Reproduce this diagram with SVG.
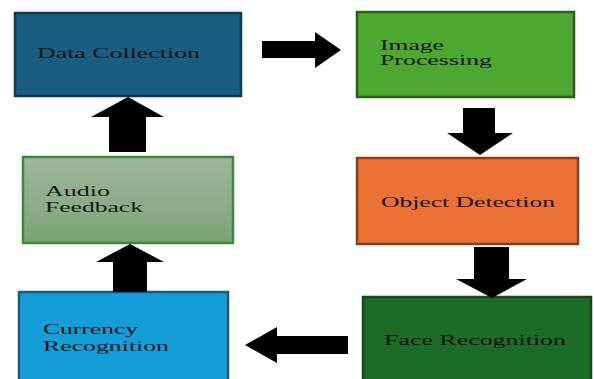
<svg xmlns="http://www.w3.org/2000/svg" width="594" height="379" viewBox="0 0 594 379">
  <defs>
    <linearGradient id="audioFill" x1="0" y1="0" x2="0" y2="1">
      <stop offset="0" stop-color="#9fb99d"/>
      <stop offset="1" stop-color="#7ba276"/>
    </linearGradient>
  </defs>
  <style>
    .box { stroke-width: 2.5; }
    .label { font-family: "Liberation Serif", "Times New Roman", serif; font-size: 15px; fill: #141414; }
    .label.two { font-size: 14px; }
    .arrow { fill: #000000; }
  </style>
  <rect width="594" height="379" fill="#ffffff"/>

  <g id="data-collection">
    <rect class="box" x="15" y="13" width="226" height="83" fill="#195e80" stroke="#16384c"/>
    <text class="label" x="37" y="58" textLength="163" lengthAdjust="spacingAndGlyphs">Data Collection</text>
  </g>

  <g id="image-processing">
    <rect class="box" x="357" y="12" width="217" height="85" fill="#4ea72f" stroke="#2e5f20"/>
    <text class="label two" x="380" y="50" textLength="64" lengthAdjust="spacingAndGlyphs">Image</text>
    <text class="label two" x="380" y="65" textLength="112" lengthAdjust="spacingAndGlyphs">Processing</text>
  </g>

  <g id="object-detection">
    <rect class="box" x="357" y="158" width="221" height="86" fill="#e97133" stroke="#8a3f1b"/>
    <text class="label" x="381" y="207" textLength="174" lengthAdjust="spacingAndGlyphs">Object Detection</text>
  </g>

  <g id="face-recognition">
    <rect class="box" x="363" y="297" width="228" height="90" fill="#1c6b27" stroke="#164a1c"/>
    <text class="label" x="384" y="345" textLength="182" lengthAdjust="spacingAndGlyphs">Face Recognition</text>
  </g>

  <g id="currency-recognition">
    <rect class="box" x="19" y="292" width="209" height="95" fill="#139ed8" stroke="#1f5876"/>
    <text class="label two" x="43" y="334" textLength="95" lengthAdjust="spacingAndGlyphs">Currency</text>
    <text class="label two" x="43" y="351" textLength="126" lengthAdjust="spacingAndGlyphs">Recognition</text>
  </g>

  <g id="audio-feedback">
    <rect class="box" x="23" y="157" width="210" height="86" fill="url(#audioFill)" stroke="#3b8a3c"/>
    <text class="label two" x="45" y="196" textLength="65" lengthAdjust="spacingAndGlyphs">Audio</text>
    <text class="label two" x="45" y="212" textLength="98" lengthAdjust="spacingAndGlyphs">Feedback</text>
  </g>

  <g id="connectors">
    <!-- Data Collection to Image Processing -->
    <polygon class="arrow" points="262,41 315,41 315,32 341,50 315,68 315,58 262,58"/>
    <!-- Image Processing to Object Detection -->
    <polygon class="arrow" points="463,108 495,108 495,133 513,133 480,155 447,133 463,133"/>
    <!-- Object Detection to Face Recognition -->
    <polygon class="arrow" points="474,247 509,247 509,279 527,279 492,298 456,279 474,279"/>
    <!-- Face Recognition to Currency Recognition -->
    <polygon class="arrow" points="348,336 277,336 277,327 245,345 277,363 277,354 348,354"/>
    <!-- Currency Recognition to Audio Feedback -->
    <polygon class="arrow" points="113,292 147,292 147,262 164,262 130,244 96,262 113,262"/>
    <!-- Audio Feedback to Data Collection -->
    <polygon class="arrow" points="109,152 146,152 146,117 164,117 128,97 91,117 109,117"/>
  </g>
</svg>
